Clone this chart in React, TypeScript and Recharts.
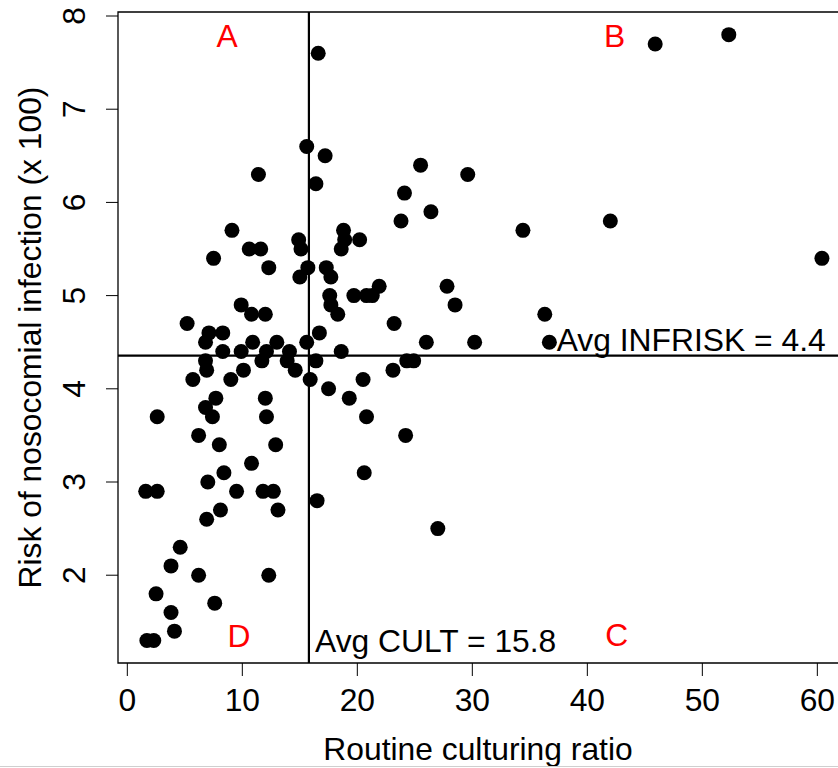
import React from "react";
import {
  ScatterChart,
  Scatter,
  XAxis,
  YAxis,
  ReferenceLine,
  ReferenceArea,
} from "recharts";

// Routine culturing ratio (x) and infection risk (y)
const cultRatio = [
  16.6, 15.6, 17.2, 16.4, 11.4, 9.1, 10.6, 11.6, 14.9, 15.1,
  18.8, 18.9, 18.6, 20.2, 7.5, 12.3, 15.7, 15.0, 17.3, 17.7,
  17.6, 17.7, 18.3, 19.7, 20.8, 21.3, 21.9, 9.9, 10.8, 12.0,
  5.2, 7.1, 8.3, 6.8, 10.9, 13.0, 8.3, 9.9, 12.1, 14.1,
  15.6, 16.7, 18.6, 6.8, 6.9, 11.7, 13.9, 14.6, 16.4, 10.1,
  5.7, 9.0, 15.9, 17.5, 19.3, 20.5, 7.7, 6.8, 12.0, 7.4,
  2.6, 12.1, 20.8, 6.2, 8.0, 12.9, 10.8, 8.4, 7.0, 1.6,
  2.6, 9.5, 11.8, 12.7, 8.1, 13.1, 6.9, 16.5, 20.6, 4.6,
  3.8, 6.2, 12.3, 2.5, 7.6, 3.8, 4.1, 1.7, 2.3, 25.5,
  29.6, 24.1, 26.4, 23.8, 34.4, 27.8, 28.5, 23.2, 26.0, 30.2,
  24.3, 24.9, 23.1, 24.2, 27.0, 45.9, 52.3, 42.0, 60.4, 36.3,
  36.7,
];
const infRisk = [
  7.6, 6.6, 6.5, 6.2, 6.3, 5.7, 5.5, 5.5, 5.6, 5.5,
  5.7, 5.6, 5.5, 5.6, 5.4, 5.3, 5.3, 5.2, 5.3, 5.2,
  5.0, 4.9, 4.8, 5.0, 5.0, 5.0, 5.1, 4.9, 4.8, 4.8,
  4.7, 4.6, 4.6, 4.5, 4.5, 4.5, 4.4, 4.4, 4.4, 4.4,
  4.5, 4.6, 4.4, 4.3, 4.2, 4.3, 4.3, 4.2, 4.3, 4.2,
  4.1, 4.1, 4.1, 4.0, 3.9, 4.1, 3.9, 3.8, 3.9, 3.7,
  3.7, 3.7, 3.7, 3.5, 3.4, 3.4, 3.2, 3.1, 3.0, 2.9,
  2.9, 2.9, 2.9, 2.9, 2.7, 2.7, 2.6, 2.8, 3.1, 2.3,
  2.1, 2.0, 2.0, 1.8, 1.7, 1.6, 1.4, 1.3, 1.3, 6.4,
  6.3, 6.1, 5.9, 5.8, 5.7, 5.1, 4.9, 4.7, 4.5, 4.5,
  4.3, 4.3, 4.2, 3.5, 2.5, 7.7, 7.8, 5.8, 5.4, 4.8,
  4.5,
];

const avgCult = 15.79;
const avgInfrisk = 4.355;

const xTicks = [0, 10, 20, 30, 40, 50, 60];
const yTicks = [2, 3, 4, 5, 6, 7, 8];
const xDomain = [-0.81, 62.84];
const yDomain = [1.058, 8.043];

// quadrant letters and average notes (data coordinates of the text baseline)
const notes = [
  { x: 8.67, y: 7.67, text: "A", color: "#ff0000", anchor: "middle" },
  { x: 42.37, y: 7.67, text: "B", color: "#ff0000", anchor: "middle" },
  { x: 42.56, y: 1.245, text: "C", color: "#ff0000", anchor: "middle" },
  { x: 9.71, y: 1.23, text: "D", color: "#ff0000", anchor: "middle" },
  { x: 37.34, y: 4.409, text: "Avg INFRISK = 4.4", color: "#000", anchor: "start" },
  { x: 16.32, y: 1.173, text: "Avg CULT = 15.8", color: "#000", anchor: "start" },
];

const FONT = "'Liberation Sans', Arial, Helvetica, sans-serif";
const FS = 31.8;

const points = cultRatio.map((x, i) => ({ x, y: infRisk[i] }));

const Dot = (props: any) => <circle cx={props.cx} cy={props.cy} r={7.5} fill="#000" />;

const Note = (props: any) => {
  const p = props.payload;
  return (
    <text x={props.cx} y={props.cy} textAnchor={p.anchor} fill={p.color} fontSize={FS} fontFamily={FONT}>
      {p.text}
    </text>
  );
};

const XTick = ({ x, y, payload }: any) => (
  <text x={x} y={y + 32.5} textAnchor="middle" fontSize={FS} fontFamily={FONT} fill="#000">
    {payload.value}
  </text>
);

const YTick = ({ x, y, payload }: any) => (
  <text
    x={x - 19}
    y={y}
    transform={`rotate(-90 ${x - 19} ${y})`}
    textAnchor="middle"
    fontSize={FS}
    fontFamily={FONT}
    fill="#000"
  >
    {payload.value}
  </text>
);

const XTitle = ({ viewBox }: any) => (
  <text
    x={viewBox.x + viewBox.width / 2 - 6}
    y={viewBox.y + 97}
    textAnchor="middle"
    fontSize={FS}
    fontFamily={FONT}
    fill="#000"
  >
    Routine culturing ratio
  </text>
);

const YTitle = ({ viewBox }: any) => {
  const cx = 41;
  const cy = viewBox.y + viewBox.height / 2;
  return (
    <text
      x={cx}
      y={cy}
      transform={`rotate(-90 ${cx} ${cy})`}
      textAnchor="middle"
      fontSize={FS}
      fontFamily={FONT}
      fill="#000"
    >
      Risk of nosocomial infection (x 100)
    </text>
  );
};

export default function App() {
  return (
    <div
      style={{
        position: "fixed",
        left: 0,
        top: 0,
        width: 838,
        height: 768,
        overflow: "hidden",
        background: "#fff",
      }}
    >
      <ScatterChart width={860} height={768} margin={{ top: 12, right: 10, bottom: 0, left: 0 }}>
        <XAxis
          type="number"
          dataKey="x"
          domain={xDomain}
          ticks={xTicks}
          allowDataOverflow
          axisLine={false}
          tickLine={{ stroke: "#000", strokeWidth: 1 }}
          tickSize={13}
          tick={<XTick />}
          height={105}
          label={<XTitle />}
        />
        <YAxis
          type="number"
          dataKey="y"
          domain={yDomain}
          ticks={yTicks}
          allowDataOverflow
          axisLine={false}
          tickLine={{ stroke: "#000", strokeWidth: 1 }}
          tickSize={12}
          tick={<YTick />}
          width={118}
          label={<YTitle />}
        />
        <ReferenceArea
          x1={xDomain[0]}
          x2={xDomain[1]}
          y1={yDomain[0]}
          y2={yDomain[1]}
          fill="none"
          stroke="#000"
          strokeWidth={1.3}
          fillOpacity={0}
        />
        <ReferenceLine x={avgCult} stroke="#000" strokeWidth={2.2} />
        <ReferenceLine y={avgInfrisk} stroke="#000" strokeWidth={2.2} />
        <Scatter data={points} shape={<Dot />} isAnimationActive={false} />
        <Scatter data={notes} shape={<Note />} isAnimationActive={false} />
      </ScatterChart>
      <div
        style={{ position: "absolute", left: 0, top: 766, width: 838, height: 1, background: "#cfcfcf" }}
      />
    </div>
  );
}
